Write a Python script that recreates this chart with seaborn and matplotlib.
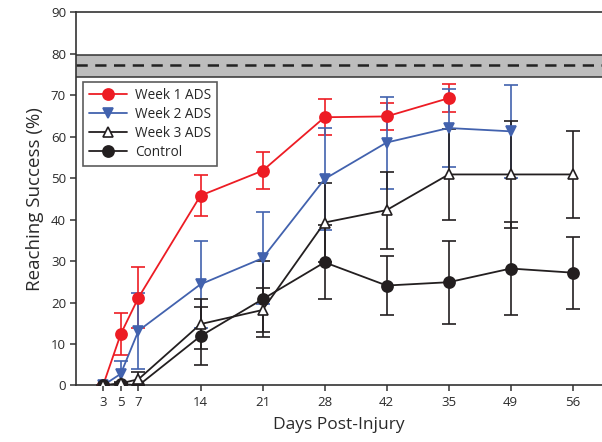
import numpy as np
import pandas as pd
import matplotlib
matplotlib.use("Agg")
import matplotlib.pyplot as plt
import seaborn as sns

# tick positions (days) and the labels printed under them
days = [3, 5, 7, 14, 21, 28, 35, 42, 49, 56]
day_labels = ["3", "5", "7", "14", "21", "28", "42", "35", "49", "56"]

week1 = [0, 12.4, 21.2, 45.8, 51.8, 64.7, 64.9, 69.3]
week1_err = [0, 5.0, 7.4, 5.0, 4.4, 4.4, 3.3, 3.3]

week2 = [0, 2.8, 13.2, 24.4, 30.7, 49.8, 58.6, 62.1, 61.3]
week2_err = [0, 3.0, 9.2, 10.5, 11.1, 12.3, 11.1, 9.3, 11.2]

week3 = [0, 0.5, 1.5, 14.8, 18.2, 39.3, 42.3, 50.9, 50.9, 50.9]
week3_err = [0, 0.4, 1.8, 6.0, 5.4, 9.6, 9.3, 11.0, 12.9, 10.6]

control = [0, 0.4, 0, 11.9, 20.8, 29.7, 24.1, 24.9, 28.2, 27.2]
control_err = [0, 0.3, 0, 7.0, 9.1, 8.9, 7.2, 10.0, 11.3, 8.7]

# normal performance band (mean and range)
band_low, band_mean, band_high = 74.5, 77.2, 79.8

sns.set_style("white")
plt.rcParams["font.family"] = ["Open Sans", "DejaVu Sans"]

fig = plt.figure(figsize=(6.02, 4.42), dpi=100)
ax = fig.add_axes([0.127, 0.128, 0.873, 0.844])

ax.axhspan(band_low, band_high, color="#bdbdbd", zorder=0, lw=0)
ax.axhline(band_low, color="#333333", lw=1.1, zorder=1)
ax.axhline(band_high, color="#333333", lw=1.1, zorder=1)
ax.axhline(band_mean, color="#222222", lw=1.8, ls=(0, (4.5, 3)), zorder=1)

series = [
    ("Week 1 ADS", week1, week1_err, "#ed1c24", "o", "#ed1c24", 8),
    ("Week 2 ADS", week2, week2_err, "#4262ae", "v", "#4262ae", 7.5),
    ("Control", control, control_err, "#231f20", "o", "#231f20", 8),
    ("Week 3 ADS", week3, week3_err, "#231f20", "^", "white", 7),
]

handles = {}
for name, vals, errs, col, mk, face, ms in series:
    x = days[:len(vals)]
    df = pd.DataFrame({"day": x, "val": vals})
    ax.errorbar(x, vals, yerr=errs, fmt="none", ecolor=col, elinewidth=1.2,
                capsize=5, capthick=1.2, zorder=2)
    sns.lineplot(data=df, x="day", y="val", ax=ax, color=col, lw=1.3,
                 marker=mk, markersize=ms, markerfacecolor=face,
                 markeredgecolor=col, markeredgewidth=1.2, zorder=3)
    handles[name] = ax.lines[-1]

order = ["Week 1 ADS", "Week 2 ADS", "Week 3 ADS", "Control"]
leg = ax.legend([handles[n] for n in order], order, loc="upper left",
                bbox_to_anchor=(0.013, 0.813), borderaxespad=0, fontsize=9.8,
                frameon=True, fancybox=False, edgecolor="#333333",
                handlelength=2.8, handletextpad=0.6, borderpad=0.42,
                labelspacing=0.3)
leg.get_frame().set_linewidth(1.2)

ax.set_xlim(0, 59.3)
ax.set_ylim(0, 90)
ax.set_xticks(days)
ax.set_xticklabels(day_labels)
ax.set_yticks(range(0, 91, 10))
ax.tick_params(axis="both", direction="out", length=4, width=1.1,
               labelsize=9.5, color="#333333", labelcolor="#2a2a2a",
               left=True, bottom=True)
for side in ["left", "bottom", "top"]:
    ax.spines[side].set_color("#333333")
    ax.spines[side].set_linewidth(1.2)
ax.spines["right"].set_visible(False)

ax.set_xlabel("Days Post-Injury", fontsize=12.5, color="#2a2a2a", labelpad=6)
ax.set_ylabel("Reaching Success (%)", fontsize=13.5, color="#2a2a2a", labelpad=5)

fig.savefig("out.png", dpi=100)
